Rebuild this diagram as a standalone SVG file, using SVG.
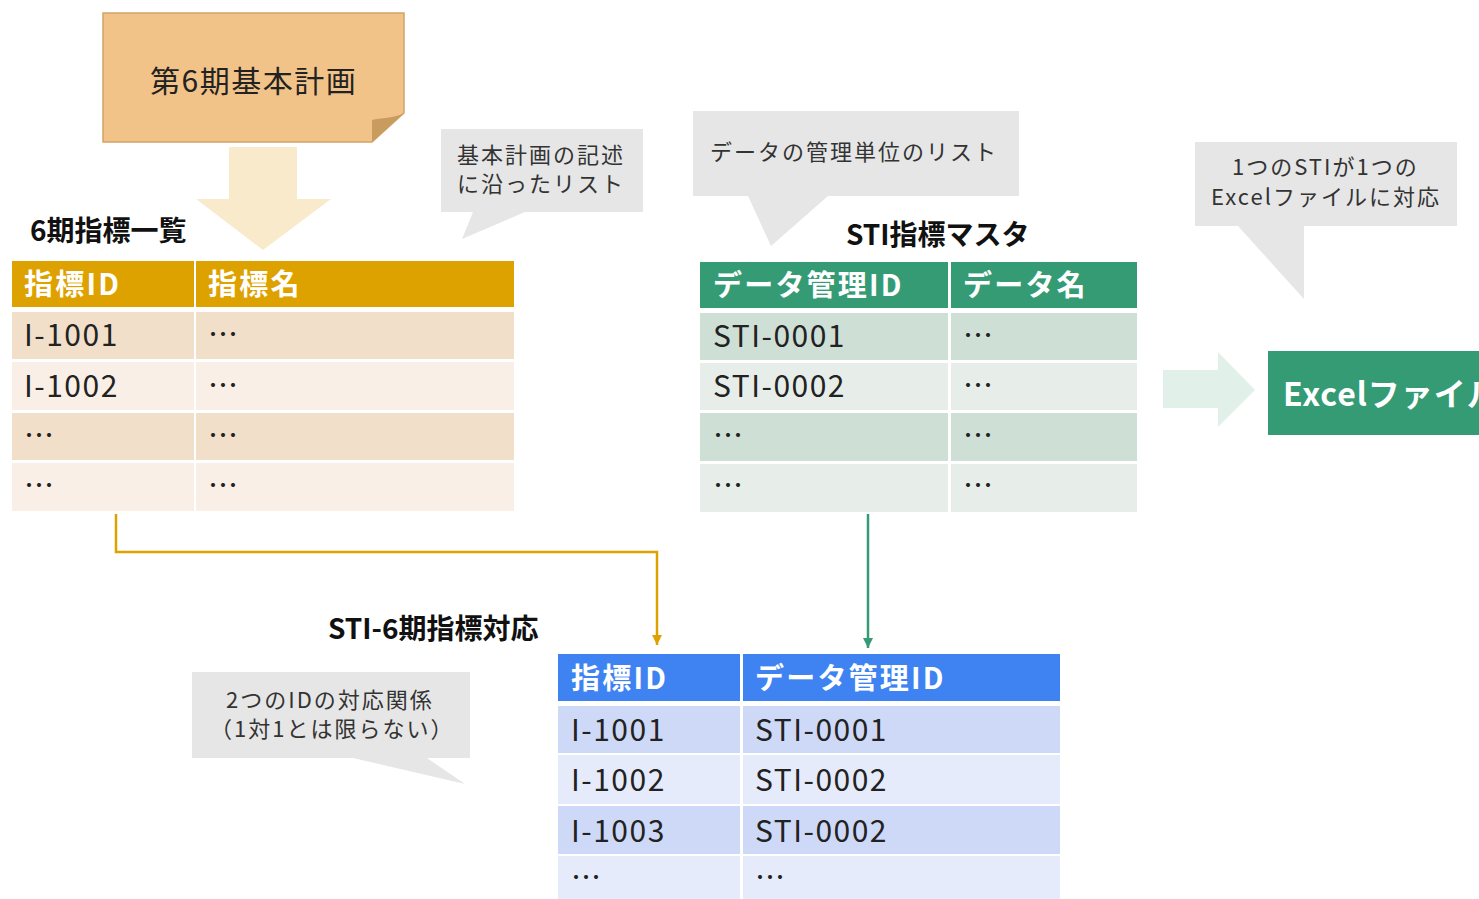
<svg xmlns="http://www.w3.org/2000/svg" width="1479" height="899" viewBox="0 0 1479 899">
<defs>
<style>
text{font-family:"Noto Sans CJK JP","Noto Sans",sans-serif;fill:#222}
.t{font-size:28px;font-weight:bold;fill:#111}
.h{font-size:29px;font-weight:bold;fill:#fff;letter-spacing:2.2px}
.c{font-size:30px;fill:#222;letter-spacing:1.5px}
.n{font-size:22px;fill:#333;letter-spacing:2px}
.call{fill:#E6E6E6}
.y0{fill:#DEA200}.y1{fill:#F1DFCA}.y2{fill:#F9EFE6}
.g0{fill:#349B74}.g1{fill:#CEDFD6}.g2{fill:#E7EEEA}
.b0{fill:#3E83F1}.b1{fill:#CED9F8}.b2{fill:#E6EBFB}
</style>
<marker id="ay" viewBox="0 0 10 10" refX="10" refY="5" markerWidth="10" markerHeight="10" markerUnits="userSpaceOnUse" orient="auto"><path d="M0,0 L10,5 L0,10 Z" fill="#DEA200"/></marker>
<marker id="ag" viewBox="0 0 10 10" refX="10" refY="5" markerWidth="10" markerHeight="10" markerUnits="userSpaceOnUse" orient="auto"><path d="M0,0 L10,5 L0,10 Z" fill="#349B74"/></marker>
</defs>

<g id="plan">
<path d="M103,13 H404 V113 L372,142 H103 Z" fill="#F2C388" stroke="#D2A466" stroke-width="1.5"/>
<path d="M404,113 C395,118 380,118 372,120 L372,142 Z" fill="#C89B5E"/>
<text x="150" y="92" style="font-size:30px;fill:#222;letter-spacing:1.5px">第6期基本計画</text>
</g>

<g id="down-arrow">
<path d="M229,147 H297 V199 H331 L263,250 L196,199 H229 Z" fill="#F9EACC"/>
</g>

<g id="callout-list">
<path d="M441,129 H643 V212 H525 L462,239 L473,212 H441 Z" class="call"/>
<text class="n" x="457" y="163">基本計画の記述</text>
<text class="n" x="457" y="192">に沿ったリスト</text>
</g>

<g id="table-indicators">
<text class="t" x="30" y="241">6期指標一覧</text>
<rect class="y0" x="12" y="261" width="182" height="46"/>
<rect class="y0" x="196" y="261" width="318" height="46"/>
<rect class="y1" x="12" y="312" width="182" height="47"/>
<rect class="y1" x="196" y="312" width="318" height="47"/>
<rect class="y2" x="12" y="362" width="182" height="48"/>
<rect class="y2" x="196" y="362" width="318" height="48"/>
<rect class="y1" x="12" y="413" width="182" height="47"/>
<rect class="y1" x="196" y="413" width="318" height="47"/>
<rect class="y2" x="12" y="463" width="182" height="48"/>
<rect class="y2" x="196" y="463" width="318" height="48"/>
<text class="h" x="24" y="295">指標ID</text>
<text class="h" x="208" y="295">指標名</text>
<text class="c" x="24" y="346">I-1001</text>
<text class="c" x="208" y="345">…</text>
<text class="c" x="24" y="397">I-1002</text>
<text class="c" x="208" y="396">…</text>
<text class="c" x="24" y="446">…</text>
<text class="c" x="208" y="446">…</text>
<text class="c" x="24" y="496">…</text>
<text class="c" x="208" y="496">…</text>
</g>

<g id="callout-data">
<path d="M693,111 H1019 V196 H828 L771,246 L748,196 H693 Z" class="call"/>
<text class="n" x="710" y="160">データの管理単位のリスト</text>
</g>

<g id="table-sti">
<text class="t" x="846" y="245">STI指標マスタ</text>
<rect class="g0" x="700" y="262" width="248" height="46"/>
<rect class="g0" x="951" y="262" width="186" height="46"/>
<rect class="g1" x="700" y="313" width="248" height="47"/>
<rect class="g1" x="951" y="313" width="186" height="47"/>
<rect class="g2" x="700" y="363" width="248" height="47"/>
<rect class="g2" x="951" y="363" width="186" height="47"/>
<rect class="g1" x="700" y="413" width="248" height="48"/>
<rect class="g1" x="951" y="413" width="186" height="48"/>
<rect class="g2" x="700" y="464" width="248" height="48"/>
<rect class="g2" x="951" y="464" width="186" height="48"/>
<text class="h" x="713" y="296">データ管理ID</text>
<text class="h" x="963" y="296">データ名</text>
<text class="c" x="713" y="347">STI-0001</text>
<text class="c" x="963" y="346">…</text>
<text class="c" x="713" y="397">STI-0002</text>
<text class="c" x="963" y="396">…</text>
<text class="c" x="713" y="446">…</text>
<text class="c" x="963" y="446">…</text>
<text class="c" x="713" y="496">…</text>
<text class="c" x="963" y="496">…</text>
</g>

<g id="callout-excel">
<path d="M1195,142 H1457 V226 H1304 V299 L1238,226 H1195 Z" class="call"/>
<text class="n" x="1232" y="175">1つのSTIが1つの</text>
<text class="n" x="1211" y="205">Excelファイルに対応</text>
</g>

<g id="right-arrow">
<path d="M1163,370 H1218 V352 L1255,390 L1218,427 V408 H1163 Z" fill="#E2F0EA"/>
</g>

<g id="excel">
<rect class="g0" x="1268" y="351" width="230" height="84"/>
<text x="1283" y="406" style="font-size:32px;font-weight:bold;fill:#fff;letter-spacing:1px">Excelファイル</text>
</g>

<g id="callout-mapping">
<path d="M192,672 H470 V758 H427 L465,784 L353,758 H192 Z" class="call"/>
<text class="n" x="226" y="708">2つのIDの対応関係</text>
<text class="n" x="210" y="737">（1対1とは限らない）</text>
</g>

<g id="table-mapping">
<text class="t" x="328" y="639">STI-6期指標対応</text>
<rect class="b0" x="558" y="654" width="182" height="47"/>
<rect class="b0" x="743" y="654" width="317" height="47"/>
<rect class="b1" x="558" y="706" width="182" height="47"/>
<rect class="b1" x="743" y="706" width="317" height="47"/>
<rect class="b2" x="558" y="755" width="182" height="49"/>
<rect class="b2" x="743" y="755" width="317" height="49"/>
<rect class="b1" x="558" y="806" width="182" height="48"/>
<rect class="b1" x="743" y="806" width="317" height="48"/>
<rect class="b2" x="558" y="856" width="182" height="43"/>
<rect class="b2" x="743" y="856" width="317" height="43"/>
<text class="h" x="571" y="689">指標ID</text>
<text class="h" x="755" y="689">データ管理ID</text>
<text class="c" x="571" y="741">I-1001</text>
<text class="c" x="755" y="741">STI-0001</text>
<text class="c" x="571" y="791">I-1002</text>
<text class="c" x="755" y="791">STI-0002</text>
<text class="c" x="571" y="842">I-1003</text>
<text class="c" x="755" y="842">STI-0002</text>
<text class="c" x="571" y="888">…</text>
<text class="c" x="755" y="888">…</text>
</g>

<g id="connectors" fill="none" stroke-width="2.5">
<path d="M116,514 V552 H657 V645" stroke="#DEA200" marker-end="url(#ay)"/>
<path d="M868,514 V648" stroke="#349B74" marker-end="url(#ag)"/>
</g>
</svg>
